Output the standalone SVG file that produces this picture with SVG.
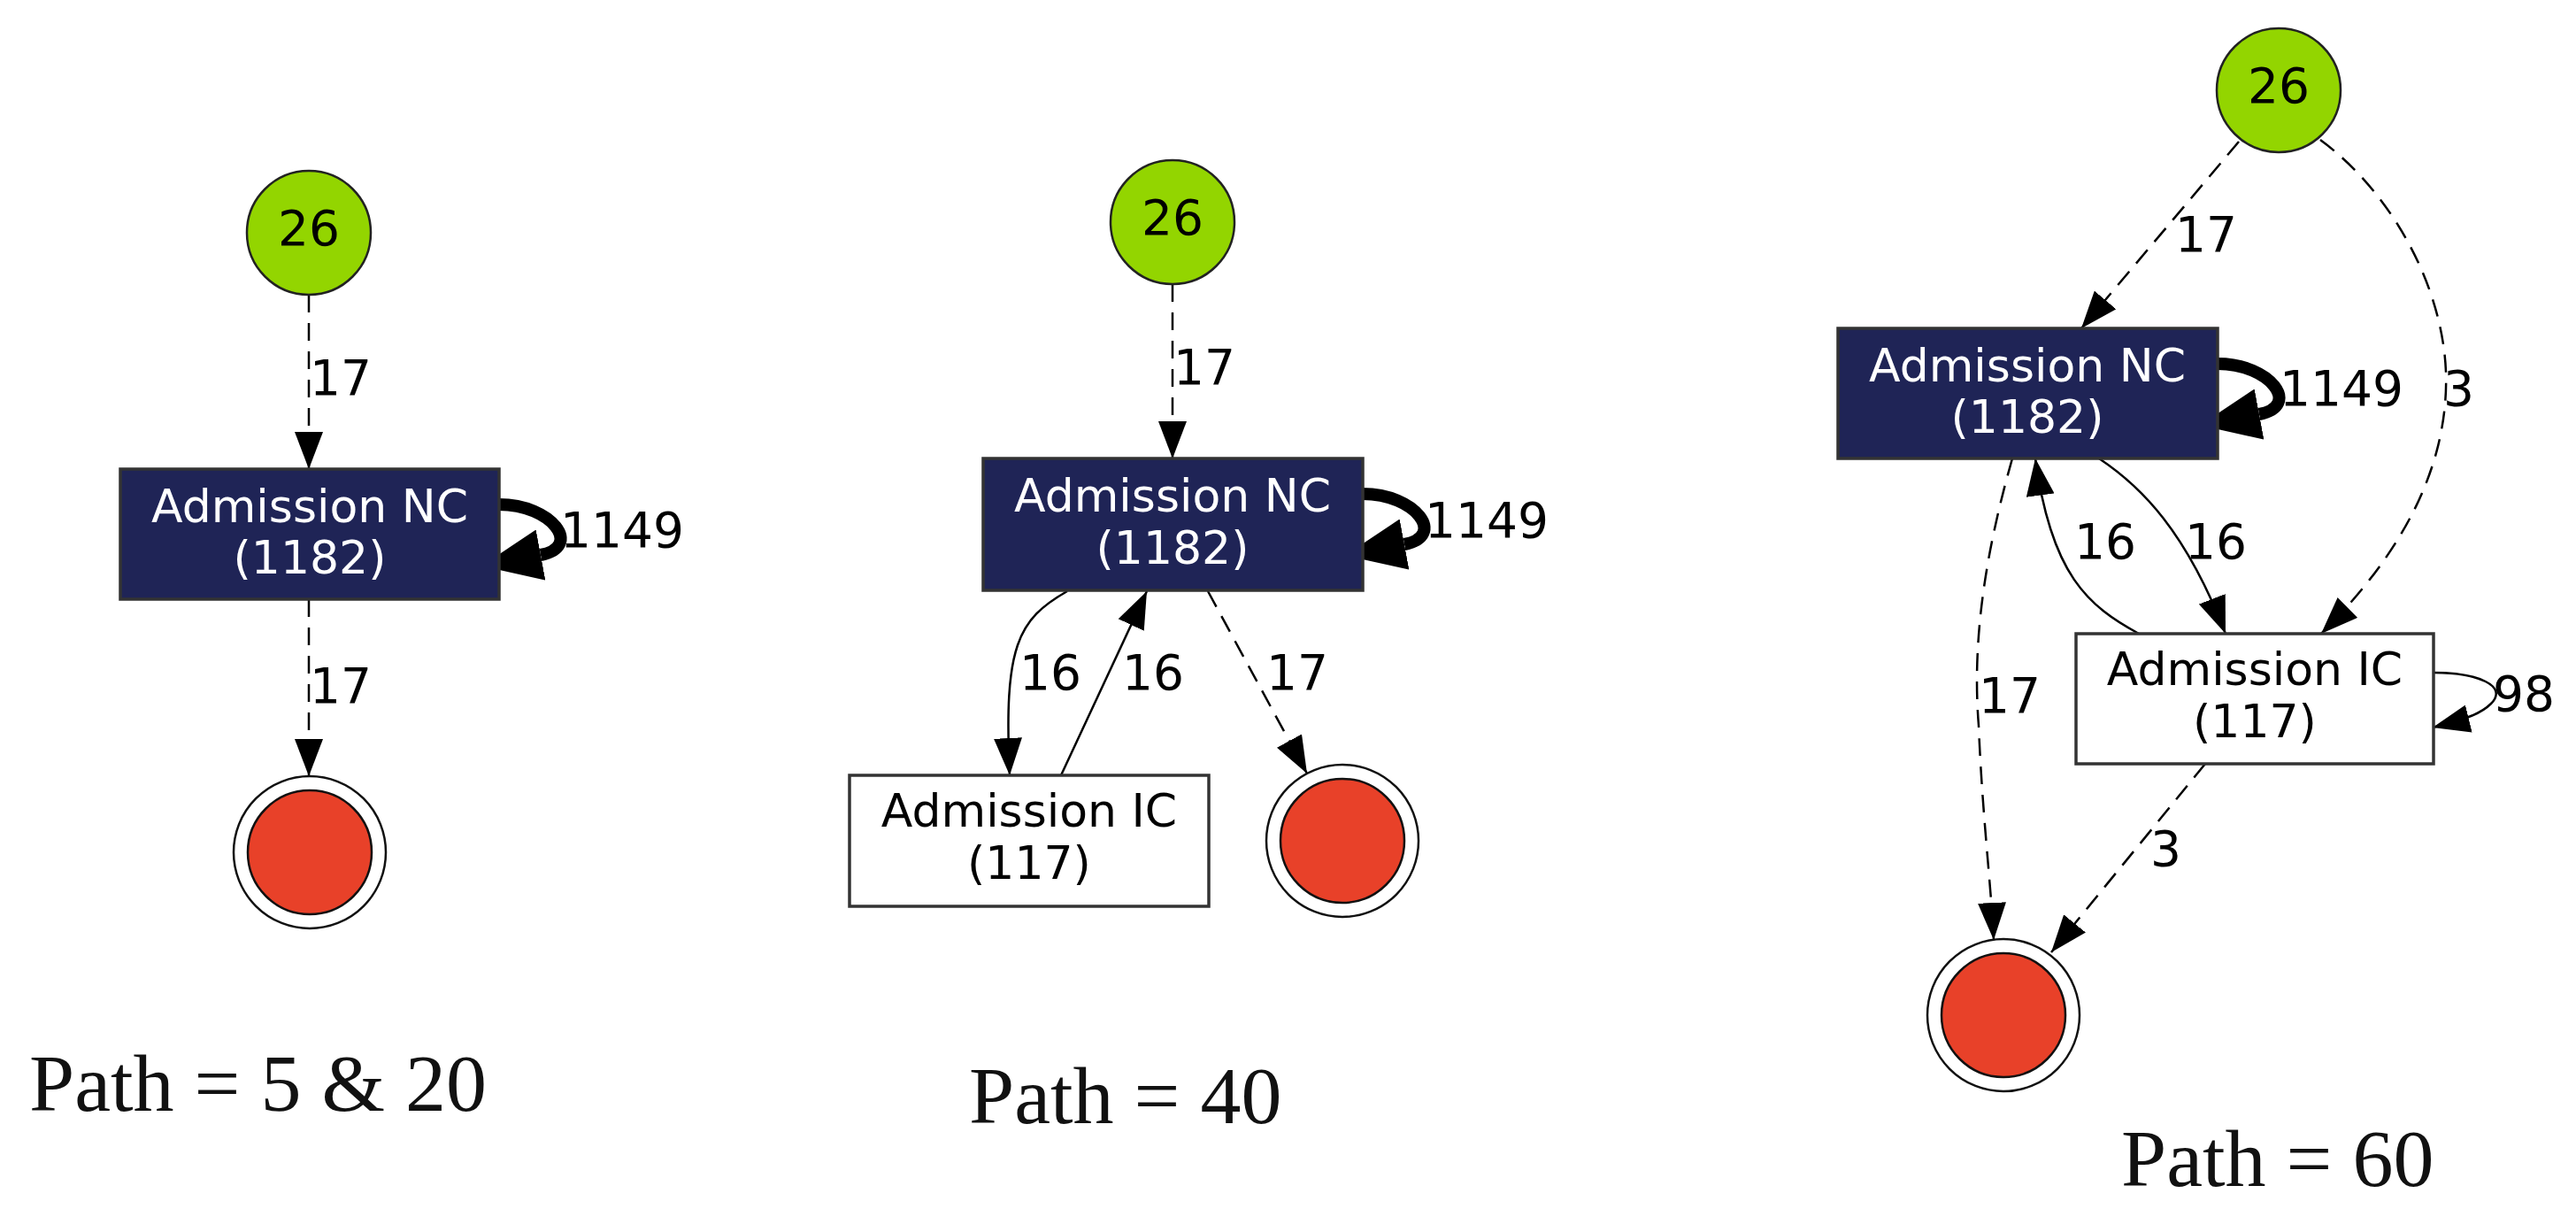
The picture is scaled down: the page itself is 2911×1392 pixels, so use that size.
<svg xmlns="http://www.w3.org/2000/svg" width="2911" height="1392" viewBox="0 0 2911 1392">
<defs>
<marker id="arr" markerUnits="userSpaceOnUse" viewBox="0 -16 42 32" refX="42" refY="0" markerWidth="42" markerHeight="32" orient="auto">
<path d="M0,-16 L42,0 L0,16 z" fill="#000" stroke="none"/>
</marker>
<marker id="thick" markerUnits="userSpaceOnUse" viewBox="0 -29 68 58" refX="0" refY="0" markerWidth="68" markerHeight="58" orient="auto">
<path d="M0,-29 L68,0 L0,29 z" fill="#000" stroke="none"/>
</marker>
<style>
.start{fill:#93d500;stroke:#222;stroke-width:2.5}
.nc{fill:#1f2456;stroke:#333;stroke-width:3.5}
.ic{fill:#fff;stroke:#333;stroke-width:3.5}
.endo{fill:#fff;stroke:#111;stroke-width:2.5}
.endi{fill:#e84129;stroke:#111;stroke-width:2.5}
.e{fill:none;stroke:#000;stroke-width:2.5;marker-end:url(#arr)}
.d{stroke-dasharray:20,12}
.loop{fill:none;stroke:#000;stroke-width:14;marker-end:url(#thick)}
.nt{font-family:"DejaVu Sans",sans-serif;font-size:52px;text-anchor:middle}
.w{fill:#fff}
.k{fill:#000}
.lbl{font-family:"DejaVu Sans",sans-serif;font-size:55px;fill:#000}
.cap{font-family:"Liberation Serif",serif;font-size:92px;fill:#111}
</style>
</defs>

<g id="connectors">
<!-- panel 1 -->
<path class="e d" d="M349,333 L349,530"/>
<path class="loop" d="M564,570 C624,570 659,618 611,627"/>
<path class="e d" d="M349,677 L349,877"/>
<!-- panel 2 -->
<path class="e d" d="M1325,321 L1325,518"/>
<path class="loop" d="M1540,558 C1600,558 1635,606 1587,615"/>
<path class="e" d="M1206,668 C1150,700 1134,730 1141,876"/>
<path class="e" d="M1199,876 L1296,668"/>
<path class="e d" d="M1365,668 L1477,874"/>
<!-- panel 3 -->
<path class="e d" d="M2530,160 L2352,371"/>
<path class="e d" d="M2622,158 C2700,215 2760,320 2764,420 C2768,540 2700,640 2623,716"/>
<path class="loop" d="M2506,411 C2566,411 2601,459 2553,468"/>
<path class="e" d="M2372,518 C2420,550 2470,600 2515,716"/>
<path class="e" d="M2417,716 C2360,685 2318,650 2300,518"/>
<path class="e d" d="M2274,518 C2245,620 2228,720 2236,820 C2240,920 2250,1000 2253,1062"/>
<path class="e d" d="M2492,863 L2318,1076"/>
<path class="e" d="M2750,760 C2800,760 2835,775 2815,795 C2805,805 2790,812 2749,822"/>
<!-- edge labels -->
<text class="lbl" x="350" y="446">17</text>
<text class="lbl" x="350" y="794">17</text>
<text class="lbl" x="633" y="618">1149</text>
<text class="lbl" x="1326" y="434">17</text>
<text class="lbl" x="1610" y="607">1149</text>
<text class="lbl" x="1152" y="779">16</text>
<text class="lbl" x="1268" y="779">16</text>
<text class="lbl" x="1431" y="779">17</text>
<text class="lbl" x="2458" y="284">17</text>
<text class="lbl" x="2761" y="458">3</text>
<text class="lbl" x="2576" y="458">1149</text>
<text class="lbl" x="2344" y="631">16</text>
<text class="lbl" x="2469" y="631">16</text>
<text class="lbl" x="2236" y="805">17</text>
<text class="lbl" x="2817" y="803">98</text>
<text class="lbl" x="2430" y="978">3</text>
</g>

<g id="p1-start"><circle class="start" cx="349" cy="263" r="70"/><text class="nt k" x="349" y="277" style="font-size:55px">26</text></g>
<g id="p1-nc"><rect class="nc" x="136" y="530" width="428" height="147"/><text class="nt w" x="350" y="590">Admission NC</text><text class="nt w" x="350" y="648">(1182)</text></g>
<g id="p1-end"><circle class="endo" cx="350" cy="963" r="86"/><circle class="endi" cx="350" cy="963" r="70"/></g>

<g id="p2-start"><circle class="start" cx="1325" cy="251" r="70"/><text class="nt k" x="1325" y="265" style="font-size:55px">26</text></g>
<g id="p2-nc"><rect class="nc" x="1111" y="518" width="429" height="149"/><text class="nt w" x="1325" y="578">Admission NC</text><text class="nt w" x="1325" y="637">(1182)</text></g>
<g id="p2-ic"><rect class="ic" x="960" y="876" width="406" height="148"/><text class="nt k" x="1163" y="934">Admission IC</text><text class="nt k" x="1163" y="993">(117)</text></g>
<g id="p2-end"><circle class="endo" cx="1517" cy="950" r="86"/><circle class="endi" cx="1517" cy="950" r="70"/></g>

<g id="p3-start"><circle class="start" cx="2575" cy="102" r="70"/><text class="nt k" x="2575" y="116" style="font-size:55px">26</text></g>
<g id="p3-nc"><rect class="nc" x="2077" y="371" width="429" height="147"/><text class="nt w" x="2291" y="431">Admission NC</text><text class="nt w" x="2291" y="489">(1182)</text></g>
<g id="p3-ic"><rect class="ic" x="2346" y="716" width="404" height="147"/><text class="nt k" x="2548" y="774">Admission IC</text><text class="nt k" x="2548" y="833">(117)</text></g>
<g id="p3-end"><circle class="endo" cx="2264" cy="1147" r="86"/><circle class="endi" cx="2264" cy="1147" r="70"/></g>

<g id="captions">
<text class="cap" x="33" y="1255">Path = 5 &amp; 20</text>
<text class="cap" x="1095" y="1269">Path = 40</text>
<text class="cap" x="2397" y="1340">Path = 60</text>
</g>
</svg>
